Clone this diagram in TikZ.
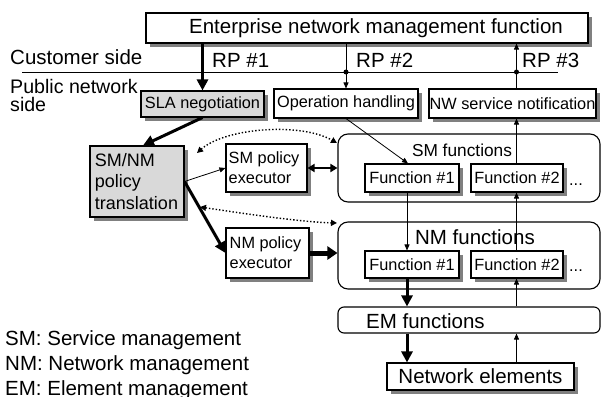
\documentclass[tikz,border=0pt]{standalone}
\usepackage{fontspec}
\setmainfont{Liberation Sans}
\usetikzlibrary{arrows.meta,shadows}

\begin{document}
\begin{tikzpicture}[x=1pt,y=-1pt,
  big/.style={font=\fontsize{20.5}{24}\selectfont},
  side/.style={font=\fontsize{19.6}{24}\selectfont},
  small/.style={font=\fontsize{16.3}{20}\selectfont},
  lbl/.style={inner sep=0pt},
  box/.style={draw,line width=1.1pt,fill=white,inner sep=0pt,
    drop shadow={shadow xshift=4pt,shadow yshift=-4pt,fill=black!50,opacity=1}},
  greybox/.style={box,fill=black!15},
  group/.style={draw,line width=1.1pt,rounded corners=10pt},
  thin arrow/.style={line width=0.8pt,-{Triangle[length=6pt,width=5pt]}},
  thick arrow/.style={line width=3pt,-{Triangle[length=11pt,width=11pt]}},
  heavy arrow/.style={line width=5pt,-{Triangle[length=10pt,width=13pt]}},
  dotlink/.style={line width=1.4pt,dotted,{Triangle[length=6pt,width=6pt]}-{Triangle[length=6pt,width=6pt]}},
  dot/.style={circle,fill,inner sep=0pt,minimum size=5pt}
]
\useasboundingbox (0,0) rectangle (602,396);

% customer / public network boundary
\coordinate (hlL) at (22,72);
\coordinate (hlR) at (558,72);
\draw[line width=0.8pt] (hlL) -- (hlR);
\node[big,lbl,anchor=base west] (cust) at (10,65) {Customer side};
\node[side,lbl,anchor=base west] (pub1) at (10,93) {Public network};
\node[side,lbl,anchor=base west] (pub2) at (10,111.5) {side};
\node[big,lbl,anchor=base west] (rp1) at (212,67) {RP \#1};
\node[big,lbl,anchor=base west] (rp2) at (356,67) {RP \#2};
\node[big,lbl,anchor=base west] (rp3) at (522,67) {RP \#3};

% columns of the vertical links
\coordinate (c1) at (407,0);
\coordinate (c2) at (516.5,0);

% boxes
\node[box,big,minimum width=442pt,minimum height=30pt] (ent) at (367,28)
  {\hspace*{18pt}Enterprise network management function};
\node[greybox,small,minimum width=123pt,minimum height=26pt] (sla) at (202.5,104) {SLA negotiation};
\node[box,small,minimum width=144pt,minimum height=29pt] (oph) at (346,103.5) {Operation handling};
\node[box,small,minimum width=167pt,minimum height=29pt] (nws) at (512.5,103.5) {NW service notification};

\node[greybox,minimum width=94pt,minimum height=71pt,align=left,
  font=\fontsize{18}{21.5}\selectfont] (smnm) at (137,181.5)
  {SM/NM\\policy\\translation\hspace*{1pt}};
\node[box,small,minimum width=81pt,minimum height=48pt,align=left] (smpe) at (266.5,168)
  {SM policy\\executor\hspace*{13pt}};
\node[box,small,minimum width=83pt,minimum height=50pt,align=left] (nmpe) at (267.5,253)
  {NM policy\\executor\hspace*{13pt}};

% function groups
\node[group,minimum width=262pt,minimum height=68pt] (smf) at (469,168) {};
\node[group,minimum width=262pt,minimum height=67pt] (nmf) at (469,255.5) {};
\node[group,rounded corners=6pt,minimum width=262pt,minimum height=26pt] (em) at (469,320) {};
\node[lbl,font=\fontsize{17.3}{20}\selectfont,anchor=base] (smlbl) at (462,156) {SM functions};
\node[big,lbl,anchor=base] (nmlbl) at (475,244) {NM functions};
\node[big,lbl,anchor=base west] (emlbl) at (366,328) {EM functions};

\node[box,small,minimum width=94pt,minimum height=28pt] (smf1) at (412,178) {Function \#1};
\node[box,small,minimum width=92pt,minimum height=28pt] (smf2) at (517,178) {Function \#2};
\node[box,small,minimum width=94pt,minimum height=27pt] (nmf1) at (412,264.5) {Function \#1};
\node[box,small,minimum width=92pt,minimum height=27pt] (nmf2) at (517,264.5) {Function \#2};
\node[small,lbl,anchor=base west] (smdots) at (569,185) {...};
\node[small,lbl,anchor=base west] (nmdots) at (569,271) {...};

\node[box,big,minimum width=187pt,minimum height=27pt] (ne) at (480.5,376.5) {Network elements};

% legend
\node[big,lbl,anchor=base west] (lsm) at (5,345) {SM: Service management};
\node[big,lbl,anchor=base west] (lnm) at (5,370) {NM: Network management};
\node[big,lbl,anchor=base west] (lem) at (5,395) {EM: Element management};

% reference point links
\draw[thick arrow] (sla.north |- ent.south) -- (sla.north);
\draw[thin arrow] (oph.north |- ent.south) -- (oph.north);
\draw[thin arrow] (c2 |- nws.north) -- (c2 |- ent.south);
\node[dot] (p2) at (oph.north |- hlL) {};
\node[dot] (p3) at (c2 |- hlL) {};

% management chain
\draw[thick arrow] (sla.south) -- ([xshift=6pt]smnm.north);
\draw[thin arrow] (smnm.east) -- (smpe.west);
\draw[thick arrow] (smnm.east) -- (nmpe.west);
\draw[line width=2pt,{Triangle[length=7pt,width=8pt]}-{Triangle[length=7pt,width=8pt]}]
  (smpe.east) -- (smf.west |- smpe.east);
\draw[heavy arrow] (nmpe.east) -- (nmf.west |- nmpe.east);

\coordinate (d1a) at (197,153);
\coordinate (d1b) at (337,143);
\coordinate (d2a) at (200,207);
\coordinate (d2b) at (337,223);
\draw[dotlink] (d1a) .. controls (225,128) and (300,122) .. (d1b);
\draw[dotlink] (d2a) .. controls (240,213) and (300,222) .. (d2b);

% downward and upward flows
\draw[thin arrow] (oph.south) -- ([xshift=-4pt]smf1.north);
\draw[thin arrow] (c1 |- smf1.south) -- (c1 |- nmf1.north);
\draw[thick arrow] (c1 |- nmf1.south) -- (c1 |- em.north);
\draw[thick arrow] (c1 |- em.south) -- (c1 |- ne.north);
\draw[thin arrow] (c2 |- ne.north) -- (c2 |- em.south);
\draw[thin arrow] (c2 |- em.north) -- (c2 |- nmf2.south);
\draw[thin arrow] (c2 |- nmf2.north) -- (c2 |- smf2.south);
\draw[thin arrow] (c2 |- smf2.north) -- (c2 |- nws.south);
\end{tikzpicture}
\end{document}
